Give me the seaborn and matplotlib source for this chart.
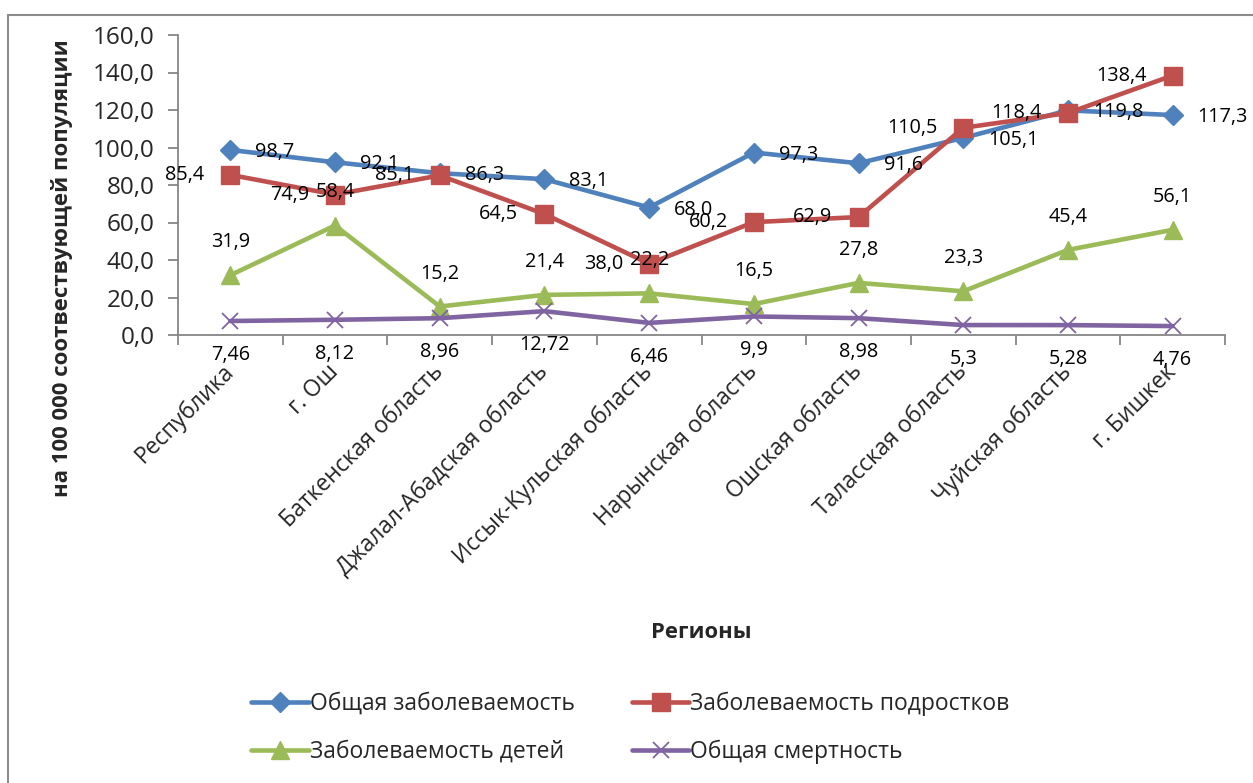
import matplotlib
matplotlib.use("Agg")
import matplotlib.pyplot as plt
from matplotlib.lines import Line2D
import seaborn as sns
import numpy as np

regions = ["Республика", "г. Ош", "Баткенская область", "Джалал-Абадская область",
           "Иссык-Кульская область", "Нарынская область", "Ошская область",
           "Таласская область", "Чуйская область", "г. Бишкек"]

general_morbidity = [98.7, 92.1, 86.3, 83.1, 68.0, 97.3, 91.6, 105.1, 119.8, 117.3]
teen_morbidity = [85.4, 74.9, 85.1, 64.5, 38.0, 60.2, 62.9, 110.5, 118.4, 138.4]
child_morbidity = [31.9, 58.4, 15.2, 21.4, 22.2, 16.5, 27.8, 23.3, 45.4, 56.1]
mortality = [7.46, 8.12, 8.96, 12.72, 6.46, 9.9, 8.98, 5.3, 5.28, 4.76]

series_names = ["Общая заболеваемость", "Заболеваемость подростков",
                "Заболеваемость детей", "Общая смертность"]

y_ticks = [0, 20, 40, 60, 80, 100, 120, 140, 160]

sns.set_theme(style="white")
plt.rcParams["font.family"] = ["Open Sans", "DejaVu Sans"]

W, H = 1253, 783
fig = plt.figure(figsize=(W / 100, H / 100), dpi=100)
ax = fig.add_axes([178 / W, 1 - 335 / H, (1225 - 178) / W, 300 / H])

x = np.arange(len(regions))

def fmt(v, dec):
    s = f"{v:.{dec}f}" if dec is not None else f"{v:g}"
    return s.replace(".", ",")

styles = [
    dict(values=general_morbidity, color="#4F81BD", marker="D", ms=10, mew=1.0),
    dict(values=teen_morbidity, color="#C0504D", marker="s", ms=12.5, mew=1.0),
    dict(values=child_morbidity, color="#9BBB59", marker="^", ms=13, mew=1.0),
    dict(values=mortality, color="#8064A2", marker="x", ms=12, mew=1.3),
]

handles = []
for name, st in zip(series_names, styles):
    sns.lineplot(x=x, y=st["values"], ax=ax, color=st["color"], linewidth=3.3,
                 marker=st["marker"], markersize=st["ms"],
                 markeredgecolor=st["color"], markerfacecolor=st["color"],
                 markeredgewidth=st["mew"], clip_on=False, legend=False)
    handles.append(Line2D([], [], color=st["color"], linewidth=3.3,
                          marker=st["marker"], markersize=st["ms"],
                          markeredgecolor=st["color"], markerfacecolor=st["color"],
                          markeredgewidth=st["mew"], label=name))

lab_kw = dict(textcoords="offset points", fontsize=14.3, color="black", zorder=10,
              annotation_clip=False)
px = 72 / 100  # one pixel in points
for xi, v in zip(x, general_morbidity):
    ax.annotate(fmt(v, 1), (xi, v), xytext=(25 * px, -2 * px), ha="left", va="center", **lab_kw)
for xi, v in zip(x, teen_morbidity):
    ax.annotate(fmt(v, 1), (xi, v), xytext=(-26 * px, 0), ha="right", va="center", **lab_kw)
for xi, v in zip(x, child_morbidity):
    ax.annotate(fmt(v, 1), (xi, v), xytext=(0, 33 * px), ha="center", va="center", **lab_kw)
for xi, v in zip(x, mortality):
    ax.annotate(fmt(v, None), (xi, v), xytext=(0, -34 * px), ha="center", va="center", **lab_kw)

ax.set_xlim(-0.5, len(regions) - 0.5)
ax.set_ylim(0, 160)
ax.set_yticks(y_ticks)
ax.set_yticklabels([fmt(t, 1) for t in y_ticks], fontsize=17.5)
ax.set_xticks(x)
ax.set_xticklabels(regions, rotation=45, ha="right", va="center",
                   rotation_mode="anchor", fontsize=16.5)
ax.set_xticks(np.arange(-0.5, len(regions)), minor=True)
ax.tick_params(axis="x", which="major", length=0, pad=24)
ax.tick_params(axis="x", which="minor", length=7, width=1.3, color="#868686",
               direction="out", bottom=True)
ax.tick_params(axis="y", which="major", length=7, width=1.3, color="#868686",
               direction="out", left=True, pad=10)

for side in ["top", "right"]:
    ax.spines[side].set_visible(False)
for side in ["left", "bottom"]:
    ax.spines[side].set_color("#868686")
    ax.spines[side].set_linewidth(1.3)
ax.grid(False)
ax.set_facecolor("none")

fig.text(62 / W, 1 - 268 / H, "на 100 000 соотвествующей популяции", rotation=90,
         ha="center", va="center", fontsize=16, fontweight="bold")
fig.text(701 / W, 1 - 632 / H, "Регионы", ha="center", va="center",
         fontsize=15.8, fontweight="bold")

order = [handles[0], handles[2], handles[1], handles[3]]
fig.legend(handles=order, labels=[h.get_label() for h in order], ncol=2,
           loc="upper left", bbox_to_anchor=(240 / W, 1 - 680 / H),
           frameon=False, fontsize=16.5, handlelength=2.5, handletextpad=0.05,
           labelspacing=1.05, columnspacing=2.5, borderpad=0)

# outer frame of the chart area
fig.add_artist(Line2D([8 / W, 8 / W], [0, 1 - 15 / H], transform=fig.transFigure,
                      color="#8c8c8c", linewidth=1.5))
fig.add_artist(Line2D([8 / W, 1], [1 - 15 / H, 1 - 15 / H], transform=fig.transFigure,
                      color="#8c8c8c", linewidth=1.5))

fig.savefig("out.png", dpi=100, facecolor="white")
